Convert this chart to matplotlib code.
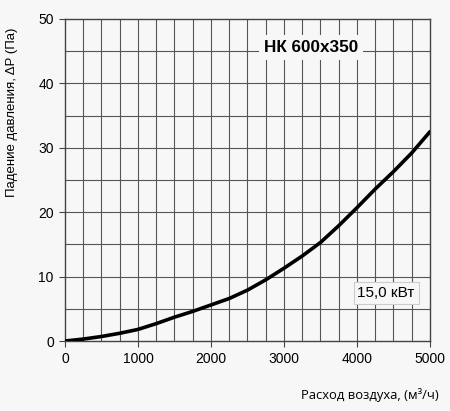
import matplotlib.pyplot as plt

# airflow (m3/h) vs pressure drop (Pa)
flow = [0, 250, 500, 750, 1000, 1250, 1500, 1750, 2000, 2250, 2500, 2750,
        3000, 3250, 3500, 3750, 4000, 4250, 4500, 4750, 5000]
dp = [0, 0.3, 0.7, 1.2, 1.8, 2.7, 3.7, 4.6, 5.6, 6.6, 7.9, 9.5,
      11.3, 13.2, 15.3, 17.9, 20.7, 23.6, 26.3, 29.2, 32.5]

x_ticks = [0, 1000, 2000, 3000, 4000, 5000]
y_ticks = [0, 10, 20, 30, 40, 50]

model = "НК 600x350"
power = "15,0 кВт"

bg = "#f7f7f7"

fig = plt.figure(figsize=(4.5, 4.11), dpi=100, facecolor=bg)
ax = fig.add_axes([0.1444, 0.1703, 0.8111, 0.7835], facecolor=bg)

# grid: every 250 on x, every 5 on y
for gx in range(250, 5000, 250):
    ax.axvline(gx, color="#555555", lw=0.8, zorder=1)
for gy in range(5, 50, 5):
    ax.axhline(gy, color="#555555", lw=0.8, zorder=1)

ax.plot(flow, dp, color="black", lw=2.6, zorder=3, solid_capstyle="round")

ax.set_xlim(0, 5000)
ax.set_ylim(0, 50)
ax.set_xticks(x_ticks)
ax.set_yticks(y_ticks)
ax.tick_params(labelsize=10, length=4, width=0.8, color="#444444", pad=4)
for lab in ax.get_xticklabels() + ax.get_yticklabels():
    lab.set_fontfamily("Liberation Sans")
for s in ax.spines.values():
    s.set_color("#444444")
    s.set_linewidth(1.0)

ax.text(3370, 45.6, model, ha="center", va="center", fontsize=12.3,
        fontweight="bold", family="Liberation Sans", zorder=4,
        bbox=dict(boxstyle="square,pad=0.3", fc=bg, ec="none"))
ax.text(4400, 7.45, power, ha="center", va="center", fontsize=11,
        family="Liberation Sans", zorder=4,
        bbox=dict(boxstyle="square,pad=0.25", fc=bg, ec="#cccccc", lw=0.8))

fig.text(0.027, 0.727, "Падение давления, ΔP (Па)", rotation=90,
         ha="center", va="center", fontsize=9.5, family="Liberation Sans")
fig.text(0.975, 0.04, "Расход воздуха, (м³/ч)", ha="right", va="center",
         fontsize=9.4, family="Open Sans")

fig.savefig("out.png", dpi=100, facecolor=bg)
